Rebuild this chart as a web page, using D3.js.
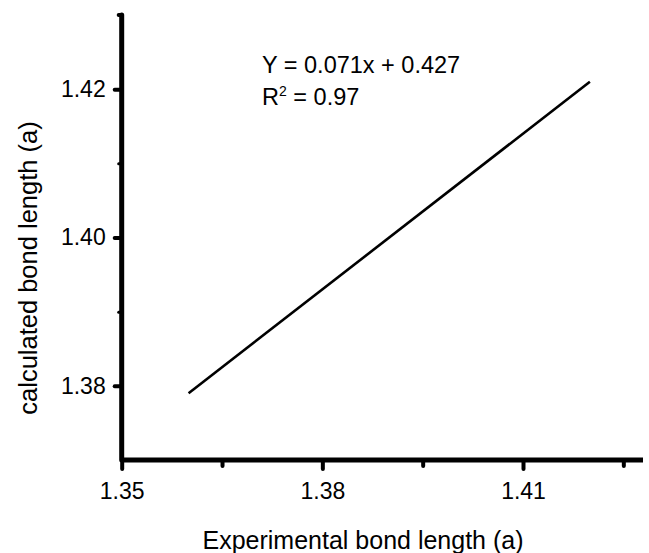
<!DOCTYPE html>
<html><head><meta charset="utf-8">
<script src="https://cdn.jsdelivr.net/npm/d3@7"></script>
<style>body{margin:0;background:#fff}text{font-family:"Liberation Sans",Arial,sans-serif;fill:#000}</style>
</head><body>
<script>
const lineX = [1.36, 1.42];
const lineY = [1.379, 1.421];
const xMajor = [1.35, 1.38, 1.41];
const xMinor = [1.365, 1.395, 1.425];
const yMajor = [1.38, 1.40, 1.42];
const yMinor = [1.39, 1.41];
const equationText = "Y = 0.071x + 0.427";
const r2Text = "0.97";

const W = 649, H = 553;
const svg = d3.select("body").append("svg").attr("width", W).attr("height", H);
const x = d3.scaleLinear().domain([1.35, 1.41]).range([121.7, 523]);
const y = d3.scaleLinear().domain([1.37, 1.43]).range([460, 15]);
const x0 = x(1.35), y0 = y(1.37);

// Axis lines
svg.append("line").attr("x1", x0).attr("x2", x0).attr("y1", y(1.43)).attr("y2", y0)
  .attr("stroke", "#000").attr("stroke-width", 5).attr("stroke-linecap", "round");
svg.append("line").attr("x1", x0 - 3).attr("x2", x0).attr("y1", y(1.43)).attr("y2", y(1.43))
  .attr("stroke", "#000").attr("stroke-width", 4).attr("stroke-linecap", "round");
svg.append("line").attr("x1", x0).attr("x2", 643).attr("y1", y0).attr("y2", y0)
  .attr("stroke", "#000").attr("stroke-width", 5);

// X ticks
const xAx = svg.append("g").attr("transform", `translate(0,${y0})`)
  .call(d3.axisBottom(x).tickValues(xMajor).tickSize(9).tickSizeOuter(0).tickPadding(14).tickFormat(d3.format(".2f")));
xAx.select(".domain").remove();
xAx.selectAll(".tick line").attr("stroke-width", 4).attr("stroke-linecap", "round");
xAx.selectAll(".tick text").attr("font-size", 23).style("font-family", "Liberation Sans, Arial, sans-serif").attr("fill", "#000");
const xAxMin = svg.append("g").attr("transform", `translate(0,${y0})`)
  .call(d3.axisBottom(x).tickValues(xMinor).tickSize(6).tickSizeOuter(0).tickFormat(""));
xAxMin.select(".domain").remove();
xAxMin.selectAll(".tick line").attr("stroke-width", 4).attr("stroke-linecap", "round");

// Y ticks
const yAx = svg.append("g").attr("transform", `translate(${x0},0)`)
  .call(d3.axisLeft(y).tickValues(yMajor).tickSize(7).tickSizeOuter(0).tickPadding(9).tickFormat(d3.format(".2f")));
yAx.select(".domain").remove();
yAx.selectAll(".tick line").attr("stroke-width", 4).attr("stroke-linecap", "round");
yAx.selectAll(".tick text").attr("font-size", 23).style("font-family", "Liberation Sans, Arial, sans-serif").attr("fill", "#000");
const yAxMin = svg.append("g").attr("transform", `translate(${x0},0)`)
  .call(d3.axisLeft(y).tickValues(yMinor).tickSize(3).tickSizeOuter(0).tickFormat(""));
yAxMin.select(".domain").remove();
yAxMin.selectAll(".tick line").attr("stroke-width", 3).attr("stroke-linecap", "round");

// Fit line
const pts = lineX.map((d, i) => [d, lineY[i]]);
svg.append("path").datum(pts)
  .attr("d", d3.line().x(d => x(d[0])).y(d => y(d[1])))
  .attr("fill", "none").attr("stroke", "#000").attr("stroke-width", 2.6);

// Annotations
svg.append("text").attr("x", 262).attr("y", 72.5).attr("font-size", 23.5).text(equationText);
const r2 = svg.append("text").attr("x", 262).attr("y", 105).attr("font-size", 23.5);
r2.append("tspan").text("R");
r2.append("tspan").attr("font-size", 14).attr("dy", -9).text("2");
r2.append("tspan").attr("dy", 9).text(" = " + r2Text);

// Axis titles
svg.append("text").attr("x", 363).attr("y", 549).attr("text-anchor", "middle").attr("font-size", 25).text("Experimental bond length (a)");
svg.append("text").attr("transform", "translate(37,268) rotate(-90)").attr("text-anchor", "middle").attr("font-size", 25.5).text("calculated bond length (a)");
</script>
</body></html>
